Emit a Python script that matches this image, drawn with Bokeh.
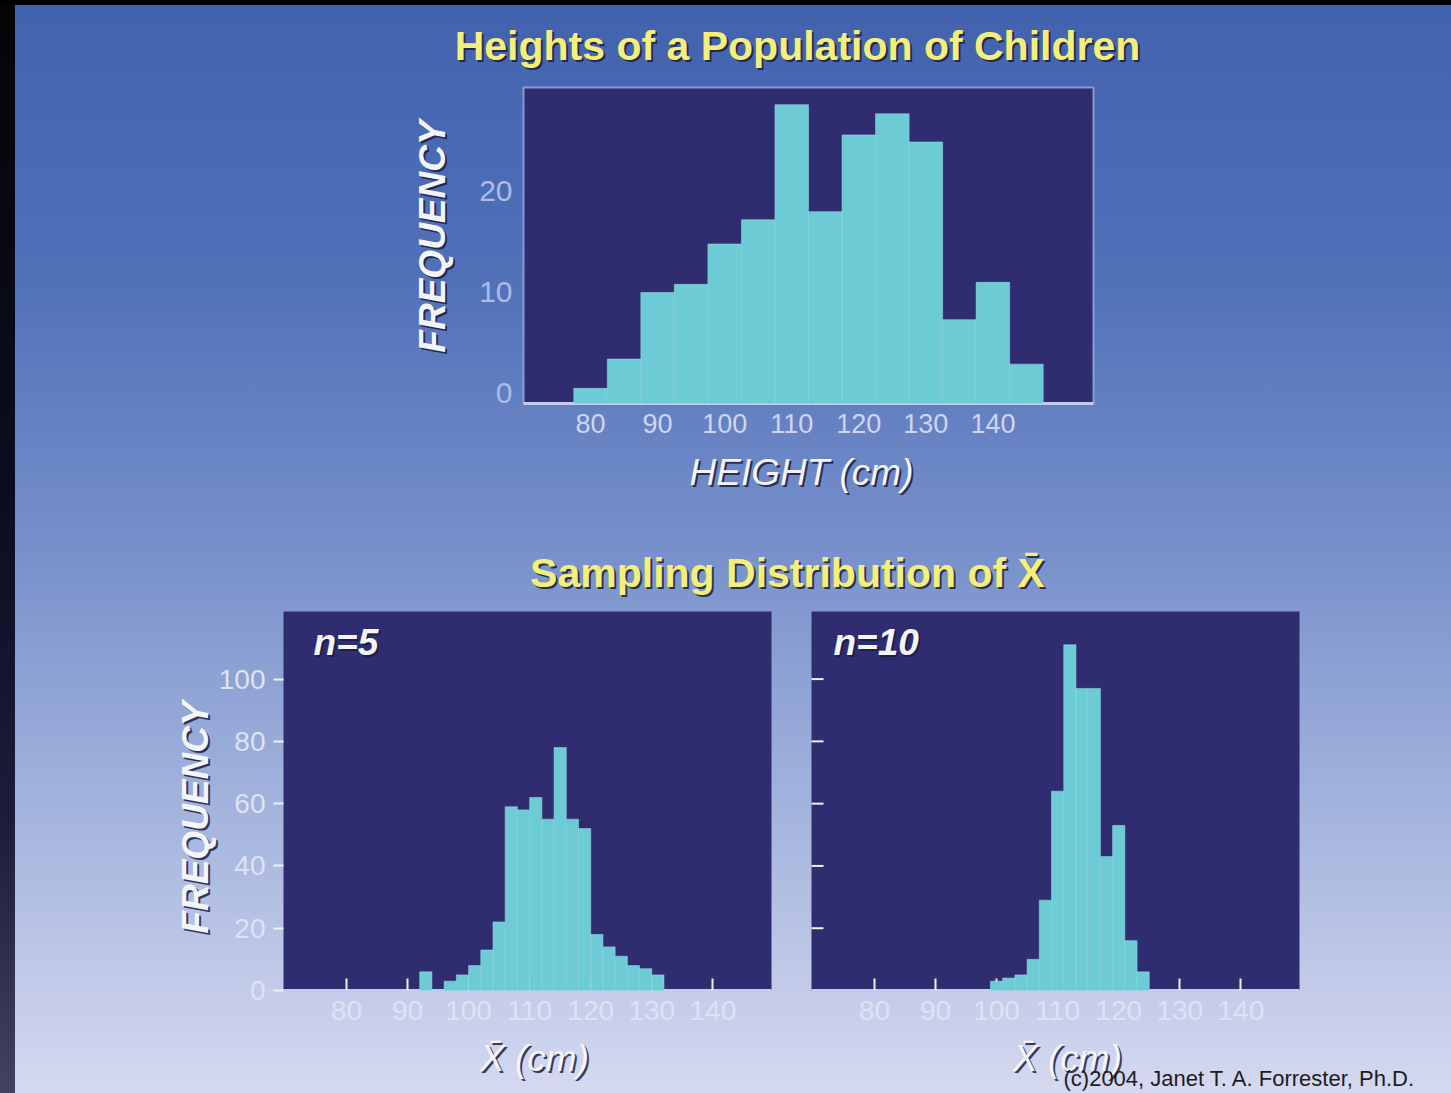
from math import pi

from bokeh.embed import file_html
from bokeh.models import FixedTicker, Label, LinearAxis, Range1d
from bokeh.plotting import figure
from bokeh.resources import INLINE

# ---- data -------------------------------------------------------------
# population of children, 5 cm height classes (class centres)
pop_centers = [80, 85, 90, 95, 100, 105, 110, 115, 120, 125, 130, 135, 140, 145]
pop_freq = [0.5, 3.4, 10.0, 10.8, 14.8, 17.2, 28.6, 18.0, 25.6, 27.7, 24.9, 7.3, 11.0, 2.9]

# sample means for n = 5, 2 cm classes
n5_centers = [93, 95, 97, 99, 101, 103, 105, 107, 109, 111,
              113, 115, 117, 119, 121, 123, 125, 127, 129, 131]
n5_freq = [6, 0, 3, 5, 8, 13, 22, 59, 58, 62, 55, 78, 55, 52, 18, 14, 11, 8, 7, 5]

# sample means for n = 10, 2 cm classes
n10_centers = [100, 102, 104, 106, 108, 110, 112, 114, 116, 118, 120, 122, 124]
n10_freq = [3, 4, 5, 10, 29, 64, 111, 97, 97, 43, 53, 16, 6]

height_ticks = [80, 90, 100, 110, 120, 130, 140]
pop_freq_ticks = [0, 10, 20]
mean_freq_ticks = [0, 20, 40, 60, 80, 100]

# ---- style ------------------------------------------------------------
NAVY = "#302c70"
BAR = "#6dcbd6"
BAR_EDGE = "#93dce4"
YELLOW = "#f4ef7a"
WHITE = "#f4f5fb"
SHADOW = "#1b1d42"
FONT = "Liberation Sans"
W, H = 1451, 1093

# data extents of the three panels
POP_X = (70, 155)
POP_Y = (-1.0, 30.3)
MEAN_X = (69.7, 149.6)
MEAN_Y = (0, 121.7)


def full_range(d_lo, d_hi, px_lo, px_hi, extent):
    """Range spanning the whole canvas so that d_lo..d_hi lands on px_lo..px_hi
    (pixels counted from the left / bottom edge)."""
    k = (d_hi - d_lo) / (px_hi - px_lo)
    return Range1d(d_lo - px_lo * k, d_lo + (extent - px_lo) * k)


page_bg = (
    "linear-gradient(to bottom, #000 0px, #000 5px, transparent 5px), "
    "linear-gradient(to bottom, #050507 0%, #0b0d1f 45%, #1c1d39 75%, #43425f 100%) "
    "0 0 / 15px 100% no-repeat, "
    "linear-gradient(to bottom, #4362ae 0%, #5070b8 25%, #7790cb 50%, "
    "#a5b5de 75%, #d5d9f0 100%)"
)

# one canvas; the main ranges are plain pixel coordinates (y downwards)
p = figure(width=W, height=H, x_range=Range1d(0, W), y_range=Range1d(H, 0),
           x_axis_type=None, y_axis_type=None,
           output_backend="svg", toolbar_location=None, tools="",
           min_border=0, min_border_left=0, min_border_right=0,
           min_border_top=0, min_border_bottom=0,
           styles={"background": page_bg})
p.background_fill_alpha = 0
p.border_fill_alpha = 0
p.outline_line_color = None
p.grid.visible = False

p.extra_x_ranges = {
    "pop_x": full_range(*POP_X, 523, 1093, W),
    "n5_x": full_range(*MEAN_X, 283, 771, W),
    "n10_x": full_range(*MEAN_X, 811, 1299, W),
}
p.extra_y_ranges = {
    "pop_y": full_range(*POP_Y, H - 403, H - 87, H),
    "mean_y": full_range(*MEAN_Y, H - 990, H - 611, H),
}


def panel(xr, yr, xext, yext, outline=None):
    p.quad(left=xext[0], right=xext[1], bottom=yext[0], top=yext[1],
           x_range_name=xr, y_range_name=yr, fill_color=NAVY,
           line_color=outline, line_width=2, line_alpha=0.9)


def bars(xr, yr, centers, freq, width, floor):
    p.vbar(x=centers, top=freq, bottom=floor, width=width,
           x_range_name=xr, y_range_name=yr,
           fill_color=BAR, line_color=BAR_EDGE, line_alpha=0.55, line_width=1,
           level="annotation")


def x_axis(xr, yr, loc, bounds, font_size, color, ticks_in):
    ax = LinearAxis(x_range_name=xr, y_range_name=yr, fixed_location=loc,
                    bounds=bounds, ticker=FixedTicker(ticks=height_ticks))
    ax.minor_tick_line_color = None
    ax.major_tick_out = 0
    ax.major_tick_in = ticks_in
    ax.major_tick_line_color = "#eef0f8" if ticks_in else None
    ax.major_tick_line_width = 2
    ax.axis_line_color = "#c3cbee"
    ax.axis_line_width = 3
    ax.major_label_text_font = FONT
    ax.major_label_text_font_size = font_size
    ax.major_label_text_color = color
    ax.major_label_standoff = 10
    p.add_layout(ax, "below")


def y_axis(xr, yr, loc, bounds, ticks, font_size, color, tick_out, standoff):
    ax = LinearAxis(x_range_name=xr, y_range_name=yr, fixed_location=loc,
                    bounds=bounds, ticker=FixedTicker(ticks=ticks))
    ax.minor_tick_line_color = None
    ax.axis_line_color = None
    ax.major_tick_in = 0
    ax.major_tick_out = tick_out
    ax.major_tick_line_color = "#eef0f8" if tick_out else None
    ax.major_tick_line_width = 2
    ax.major_label_text_font = FONT
    ax.major_label_text_font_size = font_size
    ax.major_label_text_color = color
    ax.major_label_standoff = standoff
    p.add_layout(ax, "left")


def shadow_text(text, x, y, size, color, style="normal", angle=0.0,
                align="center", off=2):
    for dx, col, alpha in ((off, SHADOW, 0.85), (0, color, 1.0)):
        p.add_layout(Label(x=x + dx, y=y + dx, text=text, text_font=FONT,
                           text_font_size=size, text_font_style=style,
                           text_color=col, text_alpha=alpha,
                           text_align=align, text_baseline="middle",
                           angle=angle, level="overlay"))


# ---- population histogram ----------------------------------------------
panel("pop_x", "pop_y", POP_X, POP_Y, outline="#8fa3da")
bars("pop_x", "pop_y", pop_centers, pop_freq, 5, POP_Y[0])
x_axis("pop_x", "pop_y", POP_Y[0], POP_X, "27px", "#cfd5f0", 0)
y_axis("pop_x", "pop_y", POP_X[0], POP_Y, pop_freq_ticks, "30px", "#aebbe6", 0, 11)

# ---- sampling distributions ----------------------------------------------
panel("n5_x", "mean_y", MEAN_X, MEAN_Y)
panel("n10_x", "mean_y", MEAN_X, MEAN_Y)

# inner tick marks on the left edge of the n = 10 panel
p.ray(x=[MEAN_X[0]] * (len(mean_freq_ticks) - 1), y=mean_freq_ticks[1:],
      length=12, length_units="screen", angle=0,
      x_range_name="n10_x", y_range_name="mean_y",
      line_color="#eef0f8", line_width=2)

bars("n5_x", "mean_y", n5_centers, n5_freq, 2, MEAN_Y[0])
bars("n10_x", "mean_y", n10_centers, n10_freq, 2, MEAN_Y[0])

x_axis("n5_x", "mean_y", MEAN_Y[0], MEAN_X, "28px", "#dfe2f2", 12)
x_axis("n10_x", "mean_y", MEAN_Y[0], MEAN_X, "28px", "#dfe2f2", 12)
y_axis("n5_x", "mean_y", MEAN_X[0], MEAN_Y, mean_freq_ticks, "28px", "#dfe2f2", 10, 8)

# ---- texts ----------------------------------------------------------------
shadow_text("Heights of a Population of Children", 797, 45, "41px", YELLOW, "bold")
shadow_text("FREQUENCY", 432, 236, "37px", WHITE, "bold italic", angle=pi / 2)
shadow_text("HEIGHT (cm)", 801, 472, "37px", WHITE, "italic")
shadow_text("Sampling Distribution of X\u0304", 787, 572, "41px", YELLOW, "bold")
shadow_text("n=5", 313, 642, "37px", WHITE, "bold italic", align="left")
shadow_text("n=10", 833, 642, "37px", WHITE, "bold italic", align="left")
shadow_text("FREQUENCY", 195, 817, "37px", WHITE, "bold italic", angle=pi / 2)
shadow_text("X\u0304 (cm)", 534, 1058, "37px", WHITE, "italic")
shadow_text("X\u0304 (cm)", 1067, 1058, "37px", WHITE, "italic")

p.add_layout(Label(x=1063, y=1090, text="(c)2004, Janet T. A. Forrester, Ph.D.",
                   text_font=FONT, text_font_size="22px", text_color="#1c1c24",
                   text_align="left", text_baseline="bottom", level="overlay"))

with open("out.html", "w") as f:
    f.write(file_html(p, INLINE))
